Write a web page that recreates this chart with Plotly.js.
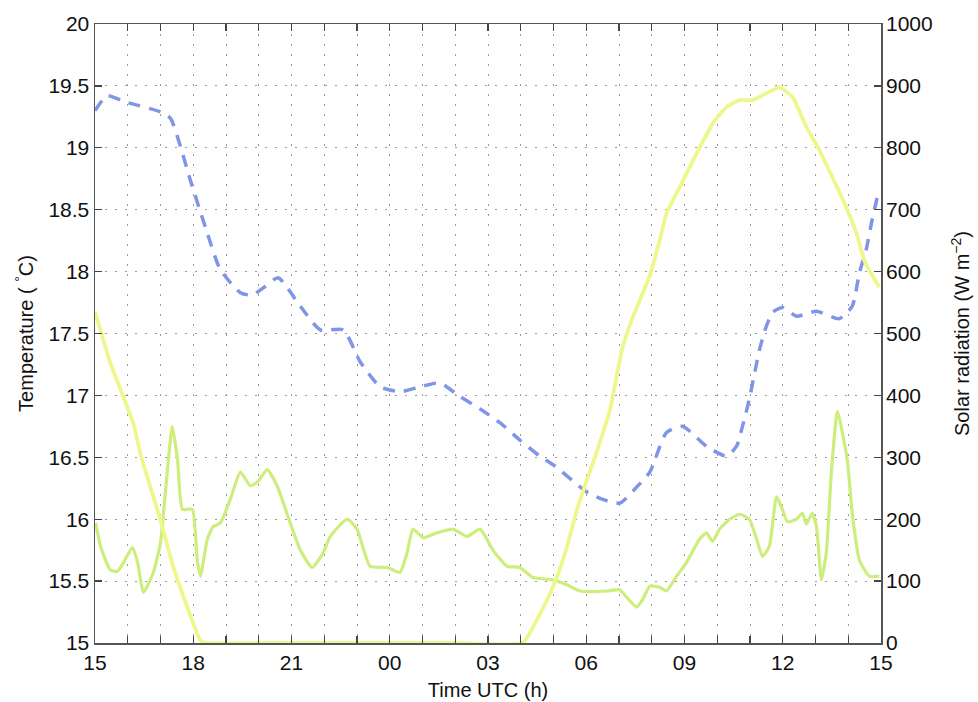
<!DOCTYPE html>
<html>
<head>
<meta charset="utf-8">
<script src="https://cdn.plot.ly/plotly-3.0.1.min.js"></script>
<style>html,body{margin:0;padding:0;background:#fff;}#chart{width:978px;height:702px;}</style>
</head>
<body>
<div id="chart"></div>
<script>
// Hours since 15 UTC of day 1 (15 .. 39)
const airHours = [15.0,15.37,15.93,17.0,17.30,17.61,17.91,18.43,18.82,19.44,19.80,20.20,20.59,21.27,21.88,22.58,23.10,23.71,24.32,24.93,25.53,26.15,26.76,27.36,27.97,28.58,29.04,30.02,30.50,31.02,31.54,31.94,32.45,32.94,33.67,34.28,34.59,34.77,34.98,35.29,35.50,35.69,35.99,36.42,37.03,37.73,38.12,38.34,38.55,38.73,38.94];
const airTemp = [19.30,19.42,19.37,19.29,19.24,19.01,18.74,18.31,18.02,17.83,17.81,17.88,17.95,17.72,17.53,17.53,17.27,17.07,17.03,17.07,17.10,16.99,16.89,16.78,16.64,16.51,16.43,16.22,16.16,16.13,16.26,16.38,16.70,16.75,16.59,16.51,16.59,16.75,16.97,17.37,17.56,17.67,17.71,17.64,17.68,17.62,17.72,17.99,18.18,18.42,18.66];

const greenHours = [15.02,15.17,15.47,15.69,15.87,16.14,16.30,16.48,16.78,17.00,17.15,17.24,17.36,17.52,17.67,17.97,18.12,18.22,18.43,18.61,18.83,19.13,19.44,19.74,19.96,20.26,20.56,20.96,21.27,21.63,21.97,22.18,22.70,23.00,23.40,23.92,24.31,24.53,24.71,25.02,25.44,25.93,26.36,26.76,27.15,27.58,27.97,28.37,28.98,29.41,29.80,30.63,31.02,31.23,31.54,31.72,31.94,32.24,32.45,32.76,33.06,33.46,33.67,33.86,34.07,34.38,34.68,34.98,35.20,35.38,35.59,35.81,35.99,36.14,36.42,36.60,36.72,36.90,37.03,37.18,37.33,37.49,37.67,37.97,38.12,38.34,38.64,38.95];
const greenTemp = [15.97,15.78,15.59,15.58,15.65,15.77,15.65,15.41,15.57,15.81,16.22,16.48,16.75,16.48,16.08,16.08,15.67,15.54,15.84,15.94,15.97,16.16,16.38,16.27,16.30,16.40,16.27,15.97,15.75,15.61,15.73,15.86,16.00,15.92,15.62,15.61,15.57,15.73,15.92,15.85,15.89,15.92,15.86,15.92,15.75,15.62,15.61,15.53,15.51,15.47,15.42,15.42,15.43,15.37,15.29,15.35,15.46,15.45,15.42,15.54,15.65,15.84,15.89,15.82,15.92,16.00,16.04,16.00,15.84,15.70,15.78,16.18,16.08,15.98,16.00,16.05,15.96,16.05,15.94,15.51,15.73,16.40,16.87,16.48,16.05,15.67,15.54,15.54];

const solarHours = [15.0,15.47,15.87,16.17,16.39,17.0,17.39,17.82,18.22,18.43,20.0,22.0,24.0,26.0,28.06,28.49,28.80,29.10,29.41,29.71,30.02,30.20,30.72,31.11,31.42,31.94,32.24,32.45,32.85,33.37,33.86,34.28,34.68,35.08,35.50,35.90,36.30,36.72,37.12,37.51,37.94,38.25,38.49,38.70,38.95];
const solarRad = [535,452,397,355,305,198,123,58,4,0,0,0,0,0,0,37,69,106,155,214,263,290,376,478,526,594,650,694,736,791,839,866,877,877,888,898,882,834,796,753,704,662,618,597,575];

const tickHours = [15,16,17,18,19,20,21,22,23,24,25,26,27,28,29,30,31,32,33,34,35,36,37,38,39];
const tickLabels = ["15","","","18","","","21","","","00","","","03","","","06","","","09","","","12","","","15"];

const FONT = "Liberation Sans, Arial, Helvetica, sans-serif";

const traces = [
  {x: solarHours, y: solarRad, yaxis: 'y2', type: 'scatter', mode: 'lines',
   line: {color: 'rgb(238,247,140)', width: 3.8, shape: 'spline', smoothing: 0.4}, hoverinfo: 'skip'},
  {x: greenHours, y: greenTemp, type: 'scatter', mode: 'lines',
   line: {color: 'rgb(205,238,125)', width: 3.2, shape: 'spline', smoothing: 0.5}, hoverinfo: 'skip'},
  {x: airHours, y: airTemp, type: 'scatter', mode: 'lines',
   line: {color: 'rgb(128,148,232)', width: 3.5, dash: '12px,9px', shape: 'spline', smoothing: 0.6}, hoverinfo: 'skip'}
];

const layout = {
  width: 978, height: 702,
  margin: {l: 94.5, r: 97, t: 24, b: 59},
  paper_bgcolor: '#fff', plot_bgcolor: '#fff',
  showlegend: false,
  font: {family: FONT, size: 20, color: '#111'},
  xaxis: {
    range: [15, 39], tickmode: 'array', tickvals: tickHours, ticktext: tickLabels,
    ticks: 'inside', ticklen: 7, tickwidth: 1.2, tickcolor: '#444',
    showline: true, linecolor: '#555', linewidth: 1.5, mirror: 'ticks',
    showgrid: true, gridcolor: '#9a9a9a', gridwidth: 1, griddash: '2px,8px',
    zeroline: false, tickfont: {family: FONT, size: 21, color: '#111'},
    title: {text: 'Time UTC (h)', font: {family: FONT, size: 20, color: '#111'}, standoff: 10}
  },
  yaxis: {
    range: [15, 20], dtick: 0.5, tick0: 15,
    ticks: 'inside', ticklen: 7, tickwidth: 1.2, tickcolor: '#444',
    showline: true, linecolor: '#555', linewidth: 1.5, mirror: true,
    showgrid: true, gridcolor: '#9a9a9a', gridwidth: 1, griddash: '2px,8px',
    zeroline: false, tickfont: {family: FONT, size: 21, color: '#111'},
    title: {text: 'Temperature ( <sup>°</sup>C)', font: {family: FONT, size: 20, color: '#111'}, standoff: 9}
  },
  yaxis2: {
    range: [0, 1000], dtick: 100, tick0: 0, overlaying: 'y', side: 'right',
    ticks: 'inside', ticklen: 7, tickwidth: 1.2, tickcolor: '#444',
    showline: false, showgrid: false, zeroline: false, ticklabelstandoff: 4,
    tickfont: {family: FONT, size: 21, color: '#111'},
    title: {text: 'Solar radiation (W m<sup>−2</sup>)', font: {family: FONT, size: 20, color: '#111'}, standoff: 23}
  }
};

Plotly.newPlot('chart', traces, layout, {displayModeBar: false, staticPlot: true});
</script>
</body>
</html>
